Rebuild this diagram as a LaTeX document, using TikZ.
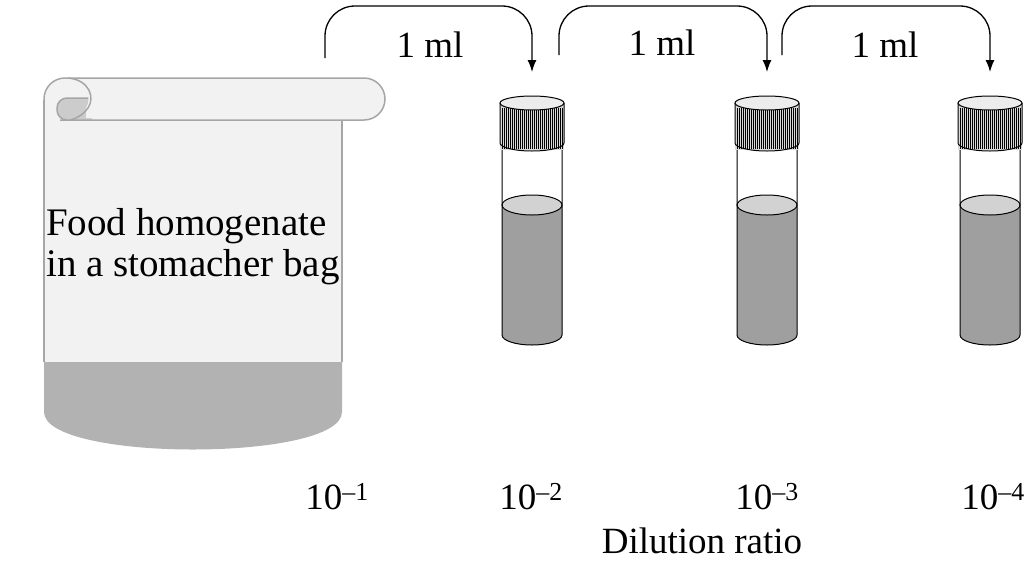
\documentclass[tikz,border=0pt]{standalone}
\usepackage{fontspec}
\setmainfont{Liberation Serif}
\usetikzlibrary{arrows.meta}
\begin{document}
\begin{tikzpicture}[x=1pt,y=-1pt,
  lbl/.style={font=\fontsize{37}{40}\selectfont, inner sep=0pt},
  xfer/.style={line width=1.3pt, rounded corners=30pt, -{Latex[length=12pt,width=9pt]}},
  glass/.style={draw=black, line width=1pt},
  bagline/.style={draw=gray!70, line width=1.5pt}]
\useasboundingbox (0,0) rectangle (1029,563);
% bag
\fill[gray!10] (44,100) rectangle (342,362);
\fill[gray!60] (44,362) -- (342,362) -- (342,412) .. controls (342,462) and (44,462) .. (44,412) -- cycle;
\draw[bagline] (44,362) -- (44,100);
\draw[bagline] (342,362) -- (342,118);
\draw[bagline, fill=gray!10, rounded corners=21pt] (44,120) -- (44,78) -- (385,78) -- (385,120) -- (60,120);
\draw[bagline, fill=gray!40, rounded corners=10pt] (92,98) -- (57,98) -- (57,120) -- (92,120);
\fill[gray!10] (68,80) .. controls (88,82) and (92,98) .. (86,108) -- (86,118) -- (300,118) -- (300,80) -- cycle;
\draw[bagline] (68,78) .. controls (90,80) and (95,98) .. (88,108) .. controls (84,114) and (78,118) .. (70,120);
\node[lbl, anchor=west, align=left, font=\fontsize{39}{41}\selectfont] (bag) at (46,247) {Food homogenate\\in a stomacher bag};
% tubes
\foreach \n/\cx in {t2/532, t3/767, t4/990}{
  \begin{scope}[shift={(\cx,0)}]
  \fill[gray!75] (-30,205) -- (-30,335) arc[start angle=180,end angle=360,x radius=30,y radius=-10] -- (30,205) -- cycle;
  \draw[glass, fill=gray!35] (0,205) ellipse[x radius=30, y radius=10];
  \draw[glass] (-30,150) -- (-30,335) arc[start angle=180,end angle=360,x radius=30,y radius=-10] -- (30,150);
  \fill[gray!30] (-32,103) rectangle (32,150);
  \foreach \i in {-30,-28,...,30} \draw[line width=0.7pt] (\i,108) -- (\i,149);
  \draw[glass] (-32,103) -- (-32,143) arc[start angle=180,end angle=360,x radius=32,y radius=-8] -- (32,103);
  \draw[glass, fill=gray!15] (0,103) ellipse[x radius=32, y radius=7];
  \coordinate (\n) at (0,72);
  \end{scope}}
% arrows
\coordinate (s1) at (325,58); \coordinate (s2) at (559,55); \coordinate (s3) at (782,55);
\draw[xfer] (s1) -- (325,6) -- (532,6) -- (t2);
\draw[xfer] (s2) -- (559,6) -- (767,6) -- (t3);
\draw[xfer] (s3) -- (782,6) -- (990,6) -- (t4);
\node[lbl] (m1) at (430,45) {1 ml};
\node[lbl] (m2) at (662,43) {1 ml};
\node[lbl] (m3) at (885,45) {1 ml};
\node[lbl] (d1) at (337,497) {10\textsuperscript{–1}};
\node[lbl] (d2) at (531,497) {10\textsuperscript{–2}};
\node[lbl] (d3) at (767,497) {10\textsuperscript{–3}};
\node[lbl] (d4) at (993,497) {10\textsuperscript{–4}};
\node[lbl] (dr) at (702,541) {Dilution ratio};
\end{tikzpicture}
\end{document}
